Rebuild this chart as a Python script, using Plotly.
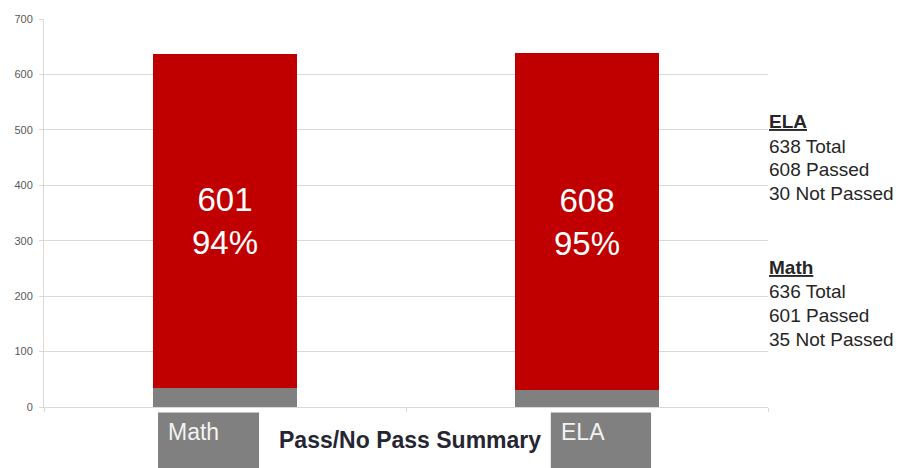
import plotly.graph_objects as go

categories = ["Math", "ELA"]
passed = [601, 608]
not_passed = [35, 30]
totals = [636, 638]
y_ticks = [0, 100, 200, 300, 400, 500, 600, 700]

pct = [round(p / t * 100) for p, t in zip(passed, totals)]
bar_text = [f"{p}<br>{q}%" for p, q in zip(passed, pct)]

FONT = "Liberation Sans, Arial, sans-serif"
W, H = 911, 468
L, R, T, B = 44, 143, 19, 61
PH = H - T - B
PW = W - L - R

def py(pix):
    return (H - B - pix) / PH

def px(pix):
    return (pix - L) / PW

fig = go.Figure()
fig.add_trace(go.Bar(x=categories, y=not_passed, name="Not Passed",
                     marker=dict(color="#808080", line=dict(width=0)),
                     hoverinfo="skip"))
fig.add_trace(go.Bar(x=categories, y=passed, name="Passed",
                     marker=dict(color="#c00000", line=dict(width=0)),
                     text=bar_text, textposition="inside", insidetextanchor="middle",
                     textangle=0,
                     textfont=dict(family=FONT, size=33, color="white"),
                     hoverinfo="skip"))

fig.update_layout(
    width=W, height=H,
    margin=dict(l=L, r=R, t=T, b=B, pad=0, autoexpand=False),
    barmode="stack", bargap=0.602,
    plot_bgcolor="white", paper_bgcolor="white",
    showlegend=False,
    font=dict(family=FONT),
    uniformtext=dict(minsize=8, mode="show"),
)
fig.update_xaxes(showticklabels=False, showgrid=False, showline=True,
                 linecolor="#d9d9d9", linewidth=1, ticks="outside",
                 tickson="boundaries", ticklen=4, tickcolor="#d9d9d9",
                 automargin=False)
fig.update_yaxes(range=[0, 700], tickvals=y_ticks, showgrid=True,
                 gridcolor="#d9d9d9", gridwidth=1, zeroline=False,
                 showline=True, linecolor="#d9d9d9", linewidth=1,
                 ticks="outside", ticklen=4, tickcolor="#d9d9d9",
                 ticklabelstandoff=4,
                 tickfont=dict(family=FONT, size=11, color="#595959"),
                 automargin=False)

# category label boxes below the axis
box_offsets = [(-0.185, 0.094), (-0.100, 0.177)]
for i, (cat, (a, b)) in enumerate(zip(categories, box_offsets)):
    fig.add_shape(type="rect", xref="x", yref="paper",
                  x0=i + a, x1=i + b, y0=py(412.5), y1=py(472),
                  fillcolor="#808080", line=dict(width=0), layer="above")
    fig.add_annotation(xref="x", yref="paper", x=i + a, y=py(432),
                       xanchor="left", yanchor="middle", xshift=8,
                       text=cat, showarrow=False,
                       font=dict(family=FONT, size=23, color="#f2f2f2"))

fig.add_annotation(xref="paper", yref="paper", x=px(410), y=py(440),
                   xanchor="center", yanchor="middle",
                   text="<b>Pass/No Pass Summary</b>", showarrow=False,
                   font=dict(family=FONT, size=23, color="#262633"))

# right side summary text
right_blocks = []
for cat, tot, p, n in zip(categories, totals, passed, not_passed):
    right_blocks.append([f"<b><u>{cat}</u></b>", f"{tot} Total", f"{p} Passed", f"{n} Not Passed"])
block_tops = {"ELA": 122, "Math": 267}
for cat, lines in zip(categories, right_blocks):
    y0 = block_tops[cat]
    for k, line in enumerate(lines):
        fig.add_annotation(xref="paper", yref="paper", x=px(767), y=py(y0 + k * 24),
                           xanchor="left", yanchor="middle", text=line, showarrow=False,
                           font=dict(family=FONT, size=19, color="#262626"))

fig.write_html("out.html", config={"displayModeBar": False},
               post_script="document.body.style.margin='0';document.body.style.overflow='hidden';")
